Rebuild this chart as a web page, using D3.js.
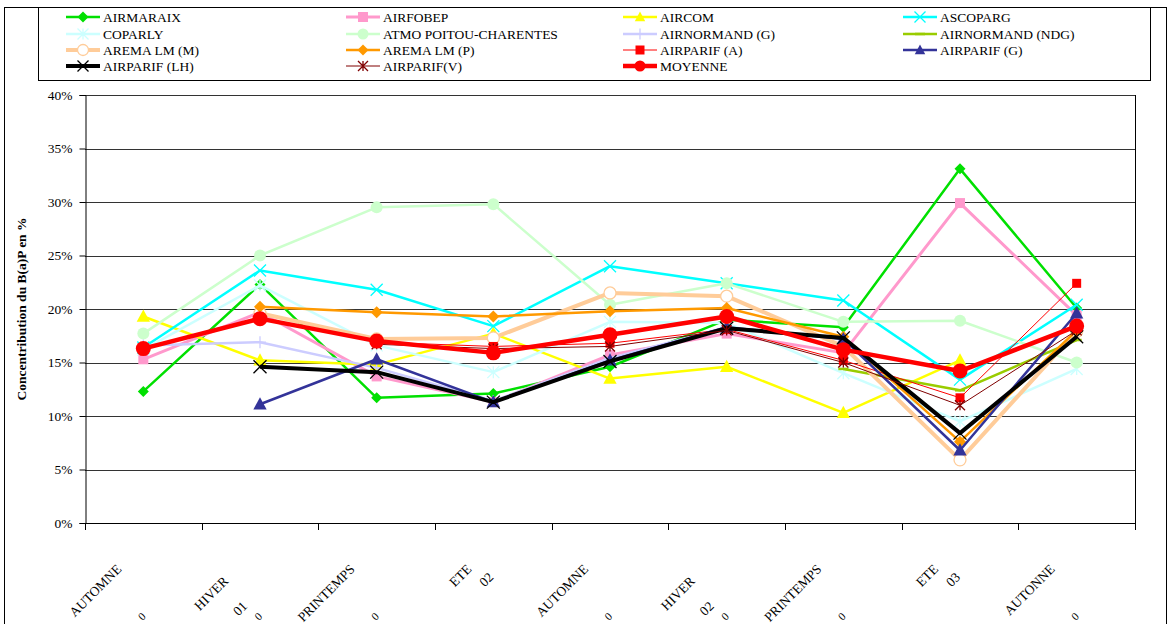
<!DOCTYPE html>
<html>
<head>
<meta charset="utf-8">
<script src="https://cdn.jsdelivr.net/npm/d3@7"></script>
<style>
  body { margin: 0; background: #fff; }
  svg { display: block; }
  svg text { font-family: "Liberation Serif", "Times New Roman", serif; }
</style>
</head>
<body>
<svg id="chart" width="1171" height="624"></svg>
<script>
// Season labels along the category axis
const seasons = ["AUTOMNE", "HIVER", "PRINTEMPS", "ETE", "AUTOMNE", "HIVER", "PRINTEMPS", "ETE", "AUTONNE"];
const yearTags = ["", "01", "", "02", "", "02", "", "03", ""];
const tailTags = ["0", "0", "0", "", "0", "0", "0", "", "0"];
const yTicks = [0, 5, 10, 15, 20, 25, 30, 35, 40];

// Share of B(a)P (%) per network and season (null = no measurement)
const airmaraix     = [12.3, 22.3, 11.7, 12.1, 14.6, 19.0, 18.3, 33.1, 20.1];
const airfobep      = [15.3, 19.7, 13.7, 11.3, 15.7, 17.7, 15.9, 29.9, 19.4];
const aircom        = [19.3, 15.2, 14.8, 17.7, 13.5, 14.6, 10.3, 15.2, null];
const ascoparg      = [16.4, 23.6, 21.8, 18.4, 24.0, 22.4, 20.8, 13.4, 20.4];
const coparly       = [16.2, 22.2, 16.6, 14.1, 18.8, 18.7, 14.0, 9.5, 14.4];
const atmoPoitou    = [17.7, 25.0, 29.5, 29.8, 20.4, 22.4, 18.8, 18.9, 15.0];
const airnormandG   = [16.6, 16.9, 14.5, 11.4, 15.4, 18.3, null, null, null];
const airnormandNdg = [null, null, null, null, null, null, 14.4, 12.4, 17.1];
const aremaM        = [null, 19.6, 17.2, 17.3, 21.5, 21.2, 16.5, 5.9, 17.9];
const aremaP        = [null, 20.2, 19.7, 19.3, 19.8, 20.1, 17.4, 7.6, 18.0];
const airparifA     = [null, null, 16.9, 16.5, 16.8, 18.1, 15.2, 11.7, 22.4];
const airparifG     = [null, 11.1, 15.3, 11.3, 15.2, 18.3, 17.2, 6.8, 19.6];
const airparifLH    = [null, 14.6, 14.1, 11.3, 15.1, 18.2, 17.3, 8.4, 17.4];
const airparifV     = [null, null, 16.7, 16.3, 16.5, 18.0, 15.0, 11.0, 18.0];
const moyenne       = [16.3, 19.1, 17.0, 15.9, 17.6, 19.3, 16.2, 14.2, 18.4];

const series = [
  { name: "AIRMARAIX", values: airmaraix, color: "#00e000", width: 2.5, marker: "diamond", r: 5.5 },
  { name: "AIRFOBEP", values: airfobep, color: "#ff99cc", width: 3, marker: "square", r: 5 },
  { name: "AIRCOM", values: aircom, color: "#ffff00", width: 2.5, marker: "triangle", r: 7 },
  { name: "ASCOPARG", values: ascoparg, color: "#00ffff", width: 2.5, marker: "cross", r: 6 },
  { name: "COPARLY", values: coparly, color: "#ccffff", width: 2.5, marker: "star", r: 6 },
  { name: "ATMO POITOU-CHARENTES", values: atmoPoitou, color: "#ccffcc", width: 2.5, marker: "circle", r: 6 },
  { name: "AIRNORMAND (G)", values: airnormandG, color: "#ccccff", width: 2.5, marker: "plus", r: 6 },
  { name: "AIRNORMAND (NDG)", values: airnormandNdg, color: "#99cc00", width: 2.5, marker: "dash", r: 5 },
  { name: "AREMA LM (M)", values: aremaM, color: "#ffcc99", width: 4, marker: "ring", r: 6 },
  { name: "AREMA LM (P)", values: aremaP, color: "#ff9900", width: 2.5, marker: "diamond", r: 6 },
  { name: "AIRPARIF (A)", values: airparifA, color: "#ff0000", width: 1, marker: "square", r: 4.5 },
  { name: "AIRPARIF (G)", values: airparifG, color: "#333399", width: 2.5, marker: "triangle", r: 7 },
  { name: "AIRPARIF (LH)", values: airparifLH, color: "#000000", width: 4, marker: "cross", r: 6.5 },
  { name: "AIRPARIF(V)", values: airparifV, color: "#800000", width: 1, marker: "star", r: 5 },
  { name: "MOYENNE", values: moyenne, color: "#ff0000", width: 4.5, marker: "circle", r: 7.5 }
];

const FONT = "Liberation Serif, Times New Roman, serif";
const svg = d3.select("#chart").attr("font-family", FONT);
const plot = { left: 85, right: 1135, top: 95, bottom: 523 };

const x = d3.scaleBand().domain(d3.range(seasons.length)).range([plot.left, plot.right]).padding(0);
const cx = i => x(i) + x.bandwidth() / 2;
const y = d3.scaleLinear().domain([0, 40]).range([plot.bottom, plot.top]);

// Outer chart frame
svg.append("rect").attr("x", 4.5).attr("y", 7.5).attr("width", 1162).attr("height", 640)
  .attr("fill", "none").attr("stroke", "#000").attr("stroke-width", 1);

// Horizontal gridlines
svg.append("g").selectAll("line").data(yTicks.filter(t => t > 0)).join("line")
  .attr("x1", plot.left).attr("x2", plot.right)
  .attr("y1", d => Math.round(y(d)) + 0.5).attr("y2", d => Math.round(y(d)) + 0.5)
  .attr("stroke", "#333").attr("stroke-width", 1);

// Right edge of the plot area
svg.append("line").attr("x1", plot.right + 0.5).attr("x2", plot.right + 0.5)
  .attr("y1", plot.top).attr("y2", plot.bottom + 7).attr("stroke", "#000");

// Y axis
const yAxis = svg.append("g").attr("transform", `translate(${plot.left + 0.5},0)`)
  .call(d3.axisLeft(y).tickValues(yTicks).tickFormat(d => d + "%").tickSize(6).tickPadding(7));
yAxis.attr("font-family", FONT).attr("font-size", 13.5);
yAxis.selectAll("text").attr("fill", "#000");
yAxis.select(".domain").attr("stroke", "#000");
yAxis.selectAll(".tick line").attr("stroke", "#000");

// X axis line and category boundary ticks
svg.append("line").attr("x1", plot.left).attr("x2", plot.right)
  .attr("y1", plot.bottom + 0.5).attr("y2", plot.bottom + 0.5).attr("stroke", "#000");
const bounds = d3.range(seasons.length).map(i => x(i)).concat([x.range()[1]]);
svg.append("g").selectAll("line").data(bounds).join("line")
  .attr("x1", d => Math.round(d) + 0.5).attr("x2", d => Math.round(d) + 0.5)
  .attr("y1", plot.bottom).attr("y2", plot.bottom + 7).attr("stroke", "#000");

// Rotated category labels
const labelG = svg.append("g").attr("font-size", 13.5).attr("fill", "#000");
seasons.forEach((s, i) => {
  const short = s === "HIVER";
  const wx = cx(i) + (short ? -31 : -21), wy = plot.bottom + (short ? 59 : 47);
  labelG.append("text").attr("text-anchor", "end")
    .attr("transform", `translate(${wx},${wy}) rotate(-45)`).text(s);
  if (yearTags[i]) {
    const ex = cx(i) + (short ? -12 : 1), ey = plot.bottom + (short ? 84 : 55);
    labelG.append("text").attr("text-anchor", "end")
      .attr("transform", `translate(${ex},${ey}) rotate(-45)`).text(yearTags[i]);
  }
  if (tailTags[i]) {
    labelG.append("text").attr("text-anchor", "middle").attr("font-size", 11)
      .attr("transform", `translate(${cx(i) + 1},${plot.bottom + 96}) rotate(-45)`).text(tailTags[i]);
  }
});

// Y axis title
svg.append("text").attr("transform", `translate(26,${(plot.top + plot.bottom) / 2}) rotate(-90)`)
  .attr("text-anchor", "middle").attr("font-size", 13.5).attr("font-weight", "bold")
  .text("Concentribution du B(a)P en %");

// Marker shapes
function markerPath(kind, r) {
  const p = d3.path();
  switch (kind) {
    case "diamond": p.moveTo(0, -r); p.lineTo(r, 0); p.lineTo(0, r); p.lineTo(-r, 0); p.closePath(); break;
    case "square": p.rect(-r, -r, 2 * r, 2 * r); break;
    case "triangle": p.moveTo(0, -r); p.lineTo(r * 0.95, r * 0.75); p.lineTo(-r * 0.95, r * 0.75); p.closePath(); break;
    case "circle": case "ring": p.arc(0, 0, r, 0, 2 * Math.PI); break;
    case "cross": p.moveTo(-r, -r); p.lineTo(r, r); p.moveTo(-r, r); p.lineTo(r, -r); break;
    case "star": p.moveTo(-r, -r); p.lineTo(r, r); p.moveTo(-r, r); p.lineTo(r, -r); p.moveTo(0, -r); p.lineTo(0, r); break;
    case "plus": p.moveTo(-r, 0); p.lineTo(r, 0); p.moveTo(0, -r); p.lineTo(0, r); break;
    case "dash": p.moveTo(-r, 0); p.lineTo(r, 0); break;
  }
  return p.toString();
}
function styleMarker(sel, s) {
  const stroked = ["cross", "star", "plus", "dash"].includes(s.marker);
  if (stroked) {
    sel.attr("fill", "none").attr("stroke", s.color).attr("stroke-width", s.marker === "dash" ? 2.5 : 1.3);
  } else if (s.marker === "ring") {
    sel.attr("fill", "#fff").attr("stroke", s.color).attr("stroke-width", 1.3);
  } else {
    sel.attr("fill", s.color).attr("stroke", "none");
  }
  return sel;
}

// Series lines and markers
const line = d3.line().defined(d => d != null).x((d, i) => cx(i)).y(d => y(d));
series.forEach(s => {
  const g = svg.append("g");
  g.append("path").datum(s.values).attr("d", line)
    .attr("fill", "none").attr("stroke", s.color).attr("stroke-width", s.width)
    .attr("stroke-linejoin", "round");
  const pts = s.values.map((v, i) => ({ v, i })).filter(d => d.v != null);
  styleMarker(g.selectAll("path.m").data(pts).join("path").attr("class", "m")
    .attr("transform", d => `translate(${cx(d.i)},${y(d.v)})`)
    .attr("d", markerPath(s.marker, s.r)), s);
});

// Legend
svg.append("rect").attr("x", 38.5).attr("y", 7.5).attr("width", 1112).attr("height", 73)
  .attr("fill", "#fff").attr("stroke", "#000").attr("stroke-width", 1);
const colText = [103, 383, 660, 940];
const rowY = [17, 34, 50, 66];
series.forEach((s, k) => {
  const tx = colText[k % 4], ty = rowY[Math.floor(k / 4)];
  const g = svg.append("g");
  g.append("line").attr("x1", tx - 37).attr("x2", tx - 3).attr("y1", ty).attr("y2", ty)
    .attr("stroke", s.color).attr("stroke-width", s.width);
  styleMarker(g.append("path").attr("transform", `translate(${tx - 20},${ty})`)
    .attr("d", markerPath(s.marker, Math.min(s.r, 5.5))), s);
  g.append("text").attr("x", tx).attr("y", ty + 4.5).attr("font-size", 13.5).text(s.name);
});
</script>
</body>
</html>
